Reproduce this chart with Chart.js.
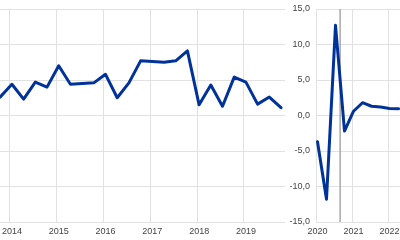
<!DOCTYPE html>
<html><head><meta charset="utf-8">
<script src="https://cdn.jsdelivr.net/npm/chart.js@4.4.1/dist/chart.umd.min.js"></script>
<style>
html,body{margin:0;padding:0;background:#fff;overflow:hidden}
#wrap{position:relative;width:400px;height:240px;overflow:hidden;background:#fff}
canvas{position:absolute;top:0}
#c1{left:0}
#c2{left:285px}
</style></head><body>
<div id="wrap"><canvas id="c1" width="285" height="240"></canvas><canvas id="c2" width="115" height="240"></canvas></div>
<script>
// ---- data ----
const preQuarters = ['2013Q4','2014Q1','2014Q2','2014Q3','2014Q4','2015Q1','2015Q2','2015Q3','2015Q4','2016Q1','2016Q2','2016Q3','2016Q4','2017Q1','2017Q2','2017Q3','2017Q4','2018Q1','2018Q2','2018Q3','2018Q4','2019Q1','2019Q2','2019Q3','2019Q4'];
const preValues   = [0.26,0.44,0.23,0.47,0.40,0.70,0.44,0.45,0.46,0.58,0.25,0.46,0.77,0.76,0.75,0.77,0.91,0.15,0.43,0.13,0.54,0.47,0.16,0.26,0.11];
const postQuarters = ['2020Q1','2020Q2','2020Q3','2020Q4','2021Q1','2021Q2','2021Q3','2021Q4','2022Q1','2022Q2'];
const postValues   = [-3.7,-11.8,12.7,-2.2,0.6,1.8,1.3,1.2,1.0,0.95];
const preTickYears  = [2014,2015,2016,2017,2018,2019];
const postTickYears = [2020,2021,2022];
const preYTicks  = [-1.5,-1.0,-0.5,0,0.5,1.0,1.5];
const postYTicks = [-15,-10,-5,0,5,10,15];
const markerDates = [2020.67];

// ---- helpers / styles ----
const qx = s => +s.slice(0,4) + (+s.slice(5)-1)/4 + 1/24; // mid of first month of quarter
const BLUE = '#003299', GRID = '#e1e1e1', TXT = '#444', MARK = '#a8a8a8';
const FONT = {family:"'Liberation Sans', Arial, sans-serif", size:9};
const fmt = v => Number(v).toFixed(1).replace('.', ',');
const base = {responsive:false, animation:false, events:[], plugins:{legend:{display:false}, tooltip:{enabled:false}}};
const noPad = s => { s.paddingLeft = 0; s.paddingRight = 0; s.paddingTop = 0; s.paddingBottom = 0; };

new Chart(document.getElementById('c1'), {
  type:'line',
  data:{datasets:[{data:preQuarters.map((q,i)=>({x:qx(q), y:preValues[i]})), borderColor:BLUE, borderWidth:3, borderJoinStyle:'round', borderCapStyle:'round', pointRadius:0, tension:0, fill:false}]},
  options:Object.assign({}, base, {
    layout:{padding:{top:9,left:0,right:0,bottom:0}},
    scales:{
      x:{type:'linear', min:2013.787, max:2019.877,
         afterBuildTicks:a=>{a.ticks = preTickYears.map(v=>({value:v}));},
         afterFit:s=>{s.height=18; noPad(s);},
         grid:{color:GRID, drawTicks:false}, border:{display:true,color:GRID},
         ticks:{color:TXT, font:FONT, padding:4, labelOffset:2, maxRotation:0, autoSkip:false, callback:v=>String(v)}},
      y:{position:'right', min:preYTicks[0], max:preYTicks[preYTicks.length-1],
         afterBuildTicks:a=>{a.ticks = preYTicks.map(v=>({value:v}));},
         afterFit:s=>{s.width=0; noPad(s);},
         ticks:{display:false}, grid:{color:GRID, drawTicks:false}, border:{display:true,color:GRID}}
    }
  })
});

new Chart(document.getElementById('c2'), {
  type:'line',
  data:{datasets:[
    {data:postQuarters.map((q,i)=>({x:qx(q), y:postValues[i]})), borderColor:BLUE, borderWidth:3, borderJoinStyle:'round', borderCapStyle:'round', pointRadius:0, tension:0, fill:false, order:0},
    {data:markerDates.flatMap(d=>[{x:d,y:postYTicks[0]},{x:d,y:postYTicks[postYTicks.length-1]}]), borderColor:MARK, borderWidth:1.5, pointRadius:0, fill:false, order:1}
  ]},
  options:Object.assign({}, base, {
    layout:{padding:{top:9,left:0,right:0,bottom:0}},
    scales:{
      x:{type:'linear', min:2020, max:2022.333,
         afterBuildTicks:a=>{a.ticks = postTickYears.map(v=>({value:v}));},
         afterFit:s=>{s.height=18; noPad(s);},
         grid:{color:GRID, drawTicks:false}, border:{display:true,color:GRID},
         ticks:{color:TXT, font:FONT, padding:4, labelOffset:1.5, maxRotation:0, autoSkip:false, callback:v=>String(v)}},
      y:{position:'left', min:postYTicks[0], max:postYTicks[postYTicks.length-1],
         afterBuildTicks:a=>{a.ticks = postYTicks.map(v=>({value:v}));},
         afterFit:s=>{s.width=31; noPad(s);},
         ticks:{color:TXT, font:FONT, padding:6, callback:v=>fmt(v)},
         grid:{color:GRID, drawTicks:false}, border:{display:true,color:GRID}}
    }
  })
});
</script>
</body></html>
